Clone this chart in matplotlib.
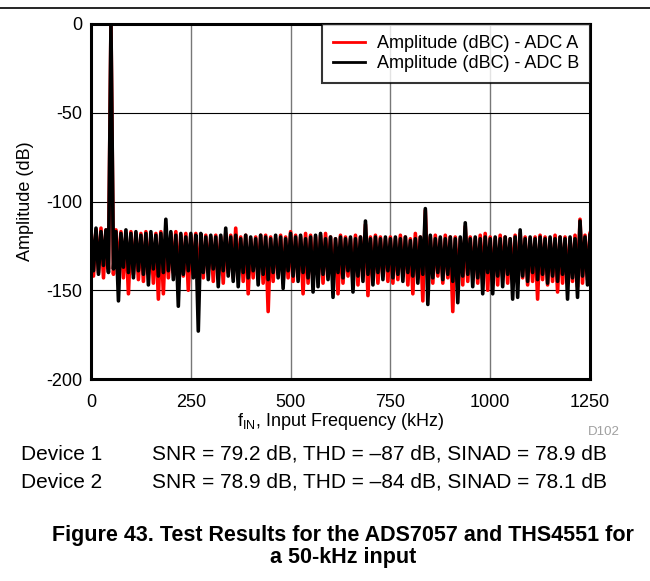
import matplotlib
matplotlib.use("Agg")
import matplotlib.pyplot as plt
from matplotlib.lines import Line2D
import numpy as np

plt.rcParams['font.family'] = ['Liberation Sans', 'DejaVu Sans']
plt.rcParams['axes.unicode_minus'] = False

# FFT bins, 0 - 1250 kHz (6.25 kHz spacing)
freq_khz = np.linspace(0, 1250, 201)

# amplitude (dBC), ADC A (red)
adc_a = [
    -115, -142, -116, -140, -115, -143, -116, -138, 0, -141,
    -116, -140, -117, -143, -118, -152, -117, -141, -118, -144,
    -118, -145, -117, -141, -119, -146, -118, -155, -117, -152,
    -116, -143, -118, -140, -117, -145, -119, -142, -118, -150,
    -119, -141, -118, -146, -120, -143, -119, -139, -120, -145,
    -119, -142, -120, -146, -118, -140, -119, -143, -115, -141,
    -120, -145, -119, -152, -121, -143, -120, -141, -119, -146,
    -119, -162, -120, -145, -121, -141, -119, -146, -120, -143,
    -117, -145, -119, -141, -120, -152, -118, -146, -119, -143,
    -120, -144, -119, -146, -118, -142, -120, -145, -121, -152,
    -119, -146, -120, -142, -121, -145, -119, -147, -120, -141,
    -113, -153, -120, -144, -119, -146, -120, -142, -121, -145,
    -120, -146, -121, -144, -119, -142, -120, -147, -121, -152,
    -118, -143, -120, -156, -105, -144, -120, -146, -119, -142,
    -121, -146, -119, -143, -120, -162, -120, -145, -121, -147,
    -114, -145, -120, -142, -121, -146, -119, -144, -118, -150,
    -120, -145, -121, -147, -119, -142, -120, -146, -121, -144,
    -119, -146, -118, -143, -120, -147, -121, -145, -120, -155,
    -119, -144, -120, -147, -121, -145, -119, -151, -120, -146,
    -120, -146, -121, -145, -119, -148, -110, -146, -119, -144,
    -118,
]

# amplitude (dBC), ADC B (black)
adc_b = [
    -116, -139, -115, -141, -117, -136, -116, -140, 0, -138,
    -117, -156, -118, -137, -116, -140, -118, -143, -117, -139,
    -119, -141, -118, -147, -117, -138, -119, -142, -118, -140,
    -110, -139, -117, -144, -119, -159, -118, -141, -120, -139,
    -118, -143, -119, -173, -118, -140, -120, -144, -119, -138,
    -120, -148, -119, -139, -115, -142, -120, -145, -119, -148,
    -121, -140, -119, -143, -120, -139, -121, -147, -119, -141,
    -120, -144, -121, -140, -119, -143, -120, -149, -121, -139,
    -118, -142, -120, -145, -119, -140, -121, -143, -120, -151,
    -119, -148, -118, -141, -121, -144, -120, -154, -121, -140,
    -120, -143, -121, -139, -120, -151, -121, -142, -120, -145,
    -111, -141, -121, -147, -120, -140, -121, -144, -120, -139,
    -121, -143, -120, -141, -121, -145, -120, -140, -122, -142,
    -121, -146, -120, -141, -104, -158, -119, -143, -121, -140,
    -120, -144, -121, -141, -120, -145, -121, -157, -120, -142,
    -112, -141, -121, -148, -120, -143, -121, -152, -120, -140,
    -121, -152, -120, -142, -121, -148, -120, -141, -121, -155,
    -120, -154, -116, -142, -121, -145, -120, -140, -121, -144,
    -120, -141, -121, -146, -120, -142, -121, -145, -120, -141,
    -121, -155, -120, -143, -121, -154, -111, -142, -120, -147,
    -119,
]

x_ticks = [0, 250, 500, 750, 1000, 1250]
y_ticks = [0, -50, -100, -150, -200]

W, H = 650, 581
fig = plt.figure(figsize=(6.5, 5.81), dpi=100)
ax = fig.add_axes([91 / W, 1 - 379 / H, (590 - 91) / W, (379 - 24) / H])

ax.plot(freq_khz, adc_a, color='red', lw=2.6, label='Amplitude (dBC) - ADC A')
ax.plot(freq_khz, adc_b, color='black', lw=2.6, label='Amplitude (dBC) - ADC B')

ax.set_xlim(0, 1250)
ax.set_ylim(-200, 0)
ax.set_xticks(x_ticks)
ax.set_yticks(y_ticks)
ax.set_axisbelow(True)
ax.xaxis.grid(True, color='#777777', lw=1.0)
ax.yaxis.grid(True, color='black', lw=0.8)
ax.tick_params(length=0, labelsize=13)
ax.tick_params(axis='x', pad=11)
ax.tick_params(axis='y', pad=6.5)
for s in ax.spines.values():
    s.set_linewidth(2.2)

ax.set_xlabel(r'f$_\mathregular{IN}$, Input Frequency (kHz)', fontsize=13)
ax.xaxis.set_label_coords(0.5, (379 - 422) / 355)
ax.xaxis.label.set_va('center')
ax.set_ylabel('Amplitude (dB)', fontsize=13)
ax.yaxis.set_label_coords((25 - 91) / 499, 0.5)
ax.yaxis.label.set_va('center')

leg = ax.legend(loc='upper right', fontsize=13, frameon=True, fancybox=False,
                borderaxespad=0, handlelength=1.8, handletextpad=0.65,
                labelspacing=0.2, borderpad=0.6)
leg.get_frame().set_edgecolor('black')
leg.get_frame().set_linewidth(1.5)
for h in leg.get_lines():
    h.set_linewidth(2)

# page rule at the top
fig.add_artist(Line2D([0, 1], [1 - 8 / H, 1 - 8 / H], color='black', lw=1.2))

fig.text(620 / W, 1 - 432 / H, 'D102', fontsize=9.5, color='#a0a0a0',
         ha='right', va='center')
fig.text(21 / W, 1 - 460 / H, 'Device 1', fontsize=15, va='baseline')
fig.text(152 / W, 1 - 460 / H, 'SNR = 79.2 dB, THD = \u201387 dB, SINAD = 78.9 dB',
         fontsize=15, va='baseline')
fig.text(21 / W, 1 - 488 / H, 'Device 2', fontsize=15, va='baseline')
fig.text(152 / W, 1 - 488 / H, 'SNR = 78.9 dB, THD = \u201384 dB, SINAD = 78.1 dB',
         fontsize=15, va='baseline')

fig.text(343 / W, 1 - 536 / H,
         'Figure 43. Test Results for the ADS7057 and THS4551 for',
         fontsize=15.5, fontweight='bold', ha='center', va='center')
fig.text(343 / W, 1 - 557 / H, 'a 50-kHz input',
         fontsize=15.5, fontweight='bold', ha='center', va='center')

fig.savefig('out.png', dpi=100)
